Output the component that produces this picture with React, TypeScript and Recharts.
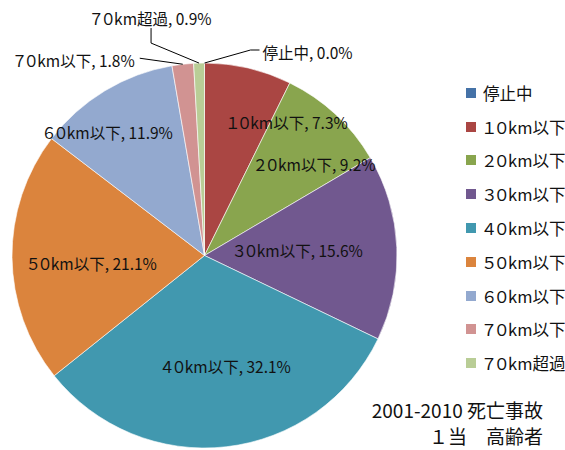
import React from 'react';
import { PieChart, Pie, Cell, Legend } from 'recharts';

const categories = ['停止中', '１０km以下', '２０km以下', '３０km以下', '４０km以下', '５０km以下', '６０km以下', '７０km以下', '７０km超過'];
const shares = [0.0, 7.3, 9.2, 15.6, 32.1, 21.1, 11.9, 1.8, 0.9];
const colors = ['#4572A7', '#AA4643', '#89A54E', '#71588F', '#4198AF', '#DB843D', '#93A9CF', '#D19392', '#B9CD96'];
const titleLines = ['2001-2010 死亡事故', '１当　高齢者'];

const data = categories.map((name, i) => ({ name, value: shares[i] }));

const FONT = '"Noto Sans CJK JP", "Noto Sans", sans-serif';
const PALT = { fontFeatureSettings: '"palt"' } as React.CSSProperties;
const RAD = Math.PI / 180;

type Layout =
  | { kind: 'in'; fx: number; fy: number }
  | { kind: 'out'; path: number[][]; text: number[]; anchor: 'start' | 'end' | 'middle' };

const labelLayout: Layout[] = [
  { kind: 'out', path: [[46, -13], [55, -13]], text: [58, -11], anchor: 'start' },
  { kind: 'in', fx: 0.43, fy: -0.694 },
  { kind: 'in', fx: 0.574, fy: -0.475 },
  { kind: 'in', fx: 0.486, fy: -0.029 },
  { kind: 'in', fx: 0.112, fy: 0.574 },
  { kind: 'in', fx: -0.584, fy: 0.039 },
  { kind: 'in', fx: -0.501, fy: -0.642 },
  { kind: 'out', path: [[-43, -6]], text: [-48, -4], anchor: 'end' },
  { kind: 'out', path: [[-48, -20], [-48, -35]], text: [-48, -45], anchor: 'middle' },
];

const renderLabel = (props: any) => {
  const { cx, cy, midAngle, outerRadius, index } = props;
  const lay = labelLayout[index];
  const txt = `${categories[index]}, ${shares[index].toFixed(1)}%`;
  if (lay.kind === 'in') {
    return (
      <text x={cx + lay.fx * outerRadius} y={cy + lay.fy * outerRadius} textAnchor="middle" dominantBaseline="central"
        fontSize={15.5} fontFamily={FONT} fill="#111" style={PALT}>{txt}</text>
    );
  }
  const ex = cx + Math.cos(-midAngle * RAD) * outerRadius;
  const ey = cy + Math.sin(-midAngle * RAD) * outerRadius;
  const pts = [[ex, ey], ...lay.path.map(([dx, dy]) => [ex + dx, ey + dy])];
  return (
    <g>
      <polyline points={pts.map((p) => p.join(',')).join(' ')} fill="none" stroke="#000" strokeWidth={1} />
      <text x={ex + lay.text[0]} y={ey + lay.text[1]} textAnchor={lay.anchor} dominantBaseline="central"
        fontSize={15.5} fontFamily={FONT} fill="#111" style={PALT}>{txt}</text>
    </g>
  );
};

const renderLegend = (props: any) => {
  const payload = props.payload || [];
  return (
    <div style={{ fontFamily: FONT, fontSize: 16.5, color: '#111', whiteSpace: 'nowrap', ...PALT }}>
      {payload.map((p: any, i: number) => (
        <div key={i} style={{ height: 33.8, display: 'flex', alignItems: 'center' }}>
          <span style={{ width: 10, height: 10, background: p.color, display: 'inline-block', marginRight: 7, flexShrink: 0 }} />
          <span>{p.value}</span>
        </div>
      ))}
    </div>
  );
};

export default function App() {
  return (
    <div style={{ position: 'absolute', left: 0, top: 0, width: 565, height: 450, background: '#fff' }}>
      <PieChart width={565} height={450} margin={{ top: 0, right: 0, bottom: 0, left: 0 }}>
        <Pie
          data={data}
          dataKey="value"
          nameKey="name"
          cx={204.5}
          cy={255.5}
          outerRadius={192.5}
          startAngle={90}
          endAngle={-270}
          stroke="#ffffff"
          strokeWidth={0.6}
          label={renderLabel}
          labelLine={false}
          isAnimationActive={false}
        >
          {data.map((d, i) => (
            <Cell key={d.name} fill={colors[i]} />
          ))}
        </Pie>
        <Legend
          layout="vertical"
          verticalAlign="top"
          align="right"
          content={renderLegend}
          wrapperStyle={{ left: 466, top: 76, width: 99 }}
        />
      </PieChart>
      <div style={{ position: 'absolute', right: 22, top: 397, textAlign: 'right', fontFamily: FONT, fontSize: 19, lineHeight: '26px', color: '#111', whiteSpace: 'nowrap' }}>
        {titleLines.map((t) => (
          <div key={t}>{t}</div>
        ))}
      </div>
    </div>
  );
}
